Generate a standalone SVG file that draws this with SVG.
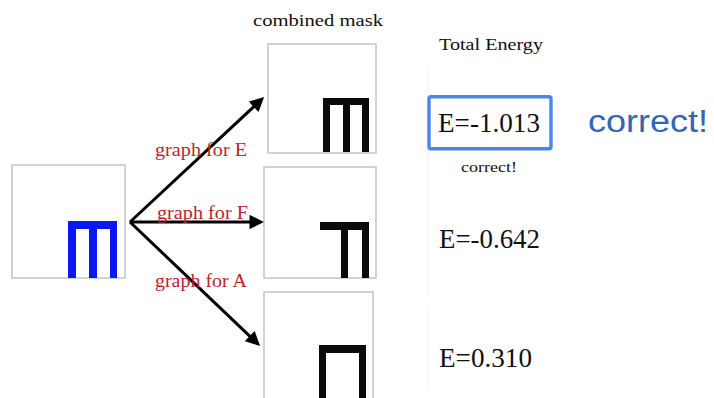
<svg xmlns="http://www.w3.org/2000/svg" width="714" height="398" viewBox="0 0 714 398">
<style>
.box{fill:#fff;stroke:#c4c4c4;stroke-width:1.5}
.serif{font-family:"Liberation Serif","DejaVu Serif",serif;fill:#111}
.lbl{font-family:"Liberation Serif","DejaVu Serif",serif;fill:#c0222a;font-size:18.5px}
.en{font-size:27px}
.arrow{stroke:#000;stroke-width:3;fill:none;marker-end:url(#ah)}
.faint{stroke:#efefef;stroke-width:1}
</style>
<defs>
<marker id="ah" viewBox="0 0 10 10" refX="8" refY="5" markerWidth="4.8" markerHeight="4.8" orient="auto" markerUnits="strokeWidth">
<path d="M0,0 L10,5 L0,10 z" fill="#000"/>
</marker>
</defs>
<rect width="714" height="398" fill="#fff"/>
<g id="faint-lines">
<line class="faint" x1="428" y1="66" x2="428" y2="296"/>
<line class="faint" x1="428" y1="307" x2="428" y2="387"/>
</g>
<g id="input">
<rect class="box" x="12" y="165" width="113" height="113"/>
<path d="M68,278 V221 H117 V278 H110 V229 H97 V278 H89 V229 H76 V278 Z" fill="#0a18f5"/>
</g>
<g id="mask-E">
<rect class="box" x="268" y="44" width="108" height="109"/>
<path d="M323,152 V98 H369 V152 H362 V105 H350 V152 H343 V105 H330 V152 Z" fill="#0a0a0a"/>
</g>
<g id="mask-F">
<rect class="box" x="264" y="167" width="112" height="111"/>
<path d="M320,222 H369 V278 H362 V230 H348 V278 H341 V230 H320 Z" fill="#0a0a0a"/>
</g>
<g id="mask-A">
<rect class="box" x="264" y="292" width="109" height="110"/>
<path d="M319,400 V345 H366 V400 H359 V353 H326 V400 Z" fill="#0a0a0a"/>
</g>
<g id="connectors">
<line class="arrow" x1="130" y1="222" x2="262" y2="99"/>
<line class="arrow" x1="130" y1="222" x2="261" y2="222"/>
<line class="arrow" x1="130" y1="222" x2="258" y2="344"/>
</g>
<g id="labels">
<text class="lbl" x="155" y="156" textLength="92" lengthAdjust="spacingAndGlyphs">graph for E</text>
<text class="lbl" x="157" y="219" textLength="91" lengthAdjust="spacingAndGlyphs">graph for F</text>
<text class="lbl" x="155" y="287" textLength="92" lengthAdjust="spacingAndGlyphs">graph for A</text>
<text class="serif" x="253" y="26" font-size="17.5" textLength="130" lengthAdjust="spacingAndGlyphs">combined mask</text>
<text class="serif" x="439" y="50" font-size="17.5" textLength="104" lengthAdjust="spacingAndGlyphs">Total Energy</text>
</g>
<g id="energy-E">
<rect x="429" y="96.7" width="122" height="52" rx="2" fill="#fff" stroke="#4a86e8" stroke-width="3.4"/>
<text class="serif en" x="438" y="132" textLength="102" lengthAdjust="spacingAndGlyphs">E=-1.013</text>
<text class="serif" x="461" y="172" font-size="15.5" textLength="56" lengthAdjust="spacingAndGlyphs">correct!</text>
</g>
<g id="energy-F">
<text class="serif en" x="439" y="248" textLength="101" lengthAdjust="spacingAndGlyphs">E=-0.642</text>
</g>
<g id="energy-A">
<text class="serif en" x="439" y="367" textLength="93" lengthAdjust="spacingAndGlyphs">E=0.310</text>
</g>
<g id="verdict">
<text x="588" y="132" font-family="'Liberation Sans',Arial,sans-serif" font-size="31" fill="#3464b4" textLength="120" lengthAdjust="spacingAndGlyphs">correct!</text>
</g>
</svg>
